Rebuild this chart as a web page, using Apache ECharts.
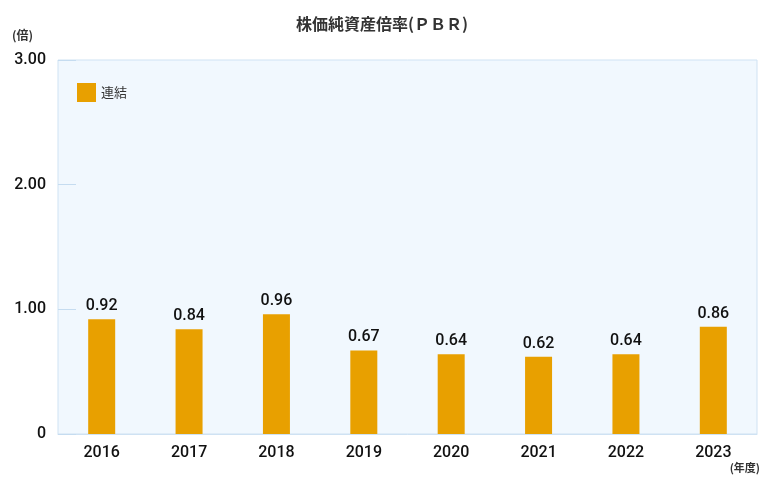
<!DOCTYPE html><html><head><meta charset="utf-8"><script src="https://cdn.jsdelivr.net/npm/echarts@6/dist/echarts.min.js"></script></head><body style="margin:0"><div id="c" style="width:764px;height:490px"></div><script>
const categories=['2016','2017','2018','2019','2020','2021','2022','2023'];
const values=[0.92,0.84,0.96,0.67,0.64,0.62,0.64,0.86];
const yTicks=[0,1,2,3];
const ch=echarts.init(document.getElementById('c'));
const F='"Noto Sans CJK JP","Noto Sans",sans-serif';
ch.setOption({
title:{text:'株価純資産倍率(ＰＢＲ)',left:'center',top:11,textStyle:{fontFamily:F,fontSize:16,fontWeight:'bold',color:'#333'}},
legend:{left:72,top:78,itemWidth:19,itemHeight:19,icon:'rect',textStyle:{fontFamily:F,fontSize:13,color:'#333'},data:['連結']},
grid:{left:58,right:7,top:60,bottom:56,show:true,backgroundColor:'#f1f8fe',borderColor:'#cfe2f3',borderWidth:1},
graphic:[{type:'text',left:12,top:29,style:{text:'(倍)',font:'bold 12px '+F,fill:'#333'}},
{type:'text',right:4,top:462,style:{text:'(年度)',font:'bold 11px '+F,fill:'#333'}}],
xAxis:{type:'category',data:categories,axisLine:{lineStyle:{color:'#cfe2f3'}},axisTick:{show:false},axisLabel:{fontFamily:'Roboto',fontSize:16,fontWeight:500,color:'#111',margin:11}},
yAxis:{type:'value',min:0,max:3,interval:1,axisLine:{show:false},splitLine:{show:false},axisTick:{show:true,inside:true,length:18,lineStyle:{color:'#c5dcf0'}},
axisLabel:{fontFamily:'Roboto',fontSize:16,fontWeight:500,color:'#111',margin:12,formatter:v=>v===0?'0':v.toFixed(2)}},
series:[{name:'連結',type:'bar',data:values,barWidth:27,itemStyle:{color:'#e8a000'},label:{show:true,position:'top',fontFamily:'Roboto',fontSize:16,fontWeight:500,color:'#111',formatter:p=>p.value.toFixed(2)}}]
});
</script></body></html>
